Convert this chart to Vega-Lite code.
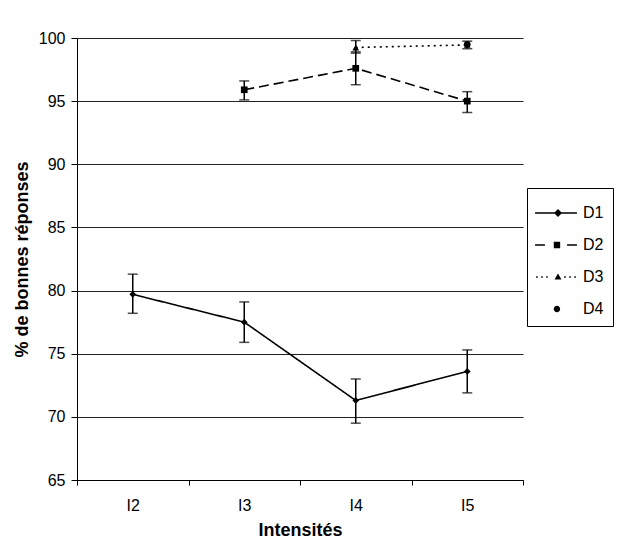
{
  "$schema": "https://vega.github.io/schema/vega-lite/v6.json",
  "width": 446,
  "height": 442,
  "autosize": "none",
  "padding": {"left": 77, "top": 38, "right": 95, "bottom": 67},
  "background": "white",
  "config": {
    "font": "Liberation Sans",
    "view": {"stroke": null},
    "axis": {"labelFont": "Liberation Sans", "titleFont": "Liberation Sans", "labelFontSize": 16, "titleFontSize": 18, "titleFontWeight": "bold", "labelColor": "black", "titleColor": "black", "domainColor": "black", "tickColor": "black"},
    "legend": {"labelFont": "Liberation Sans", "labelFontSize": 16, "labelColor": "black"}
  },
  "data": {"values": [
    {"series": "D1", "x": "I2", "value": 79.7, "lo": 78.2, "hi": 81.3},
    {"series": "D1", "x": "I3", "value": 77.5, "lo": 75.9, "hi": 79.1},
    {"series": "D1", "x": "I4", "value": 71.3, "lo": 69.5, "hi": 73.0},
    {"series": "D1", "x": "I5", "value": 73.6, "lo": 71.9, "hi": 75.3},
    {"series": "D2", "x": "I3", "value": 95.9, "lo": 95.1, "hi": 96.6},
    {"series": "D2", "x": "I4", "value": 97.6, "lo": 96.3, "hi": 98.9},
    {"series": "D2", "x": "I5", "value": 95.0, "lo": 94.1, "hi": 95.75},
    {"series": "D3", "x": "I4", "value": 99.25, "lo": 98.8, "hi": 99.8},
    {"series": "D3", "x": "I5", "value": 99.45, "lo": 99.15, "hi": 99.75},
    {"series": "D4", "x": "I5", "value": 99.5, "lo": null, "hi": null}
  ]},
  "encoding": {
    "x": {"field": "x", "type": "nominal", "scale": {"domain": ["I2", "I3", "I4", "I5"], "paddingInner": 0, "paddingOuter": 0},
      "axis": {"title": "Intensités", "labelAngle": 0, "tickBand": "extent", "tickSize": 5, "labelPadding": 12, "titlePadding": 8, "domainWidth": 1}}
  },
  "resolve": {"scale": {"shape": "independent"}, "legend": {"shape": "independent"}},
  "layer": [
    {
      "mark": {"type": "rule", "color": "black", "strokeWidth": 1.5},
      "encoding": {
        "y": {"field": "lo", "type": "quantitative", "scale": {"domain": [65, 100], "nice": false, "zero": false},
          "axis": {"title": "% de bonnes réponses", "values": [65, 70, 75, 80, 85, 90, 95, 100], "grid": true, "gridColor": "#222", "gridOpacity": 1, "gridWidth": 1, "tickSize": 6, "labelPadding": 6, "titlePadding": 7}},
        "y2": {"field": "hi"}
      }
    },
    {
      "mark": {"type": "tick", "color": "black", "thickness": 1.5, "size": 10, "orient": "horizontal"},
      "encoding": {"y": {"field": "lo", "type": "quantitative"}}
    },
    {
      "mark": {"type": "tick", "color": "black", "thickness": 1.5, "size": 10, "orient": "horizontal"},
      "encoding": {"y": {"field": "hi", "type": "quantitative"}}
    },
    {
      "mark": {"type": "line", "color": "black", "strokeWidth": 1.6},
      "encoding": {
        "y": {"field": "value", "type": "quantitative"},
        "strokeDash": {"field": "series", "type": "nominal", "scale": {"domain": ["D1", "D2", "D3", "D4"], "range": [[1, 0], [10, 5], [2, 4], [1, 0]]}, "legend": null}
      }
    },
    {
      "mark": {"type": "point", "filled": true, "color": "black", "opacity": 1, "size": 45},
      "encoding": {
        "y": {"field": "value", "type": "quantitative"},
        "shape": {"field": "series", "type": "nominal", "scale": {"domain": ["D1", "D2", "D3", "D4"], "range": ["diamond", "square", "triangle-up", "circle"]}, "legend": null}
      }
    },
    {
      "transform": [{"filter": "datum.series === 'none'"}],
      "mark": {"type": "point", "filled": true, "color": "black", "opacity": 1},
      "encoding": {
        "y": {"field": "value", "type": "quantitative"},
        "shape": {"field": "series", "type": "nominal", "scale": {"domain": ["D1", "D2", "D3", "D4"], "range": [
            "M-1.06,-0.047L1.56,-0.047L1.56,0.047L-1.06,0.047ZM0.375,-0.25L0.625,0L0.375,0.25L0.125,0Z",
            "M-1.06,-0.047L-0.44,-0.047L-0.44,0.047L-1.06,0.047ZM0.94,-0.047L1.56,-0.047L1.56,0.047L0.94,0.047ZM0.11,-0.2L0.51,-0.2L0.51,0.2L0.11,0.2Z",
            "M-0.99,-0.05L-0.89,-0.05L-0.89,0.05L-0.99,0.05ZM-0.675,-0.05L-0.575,-0.05L-0.575,0.05L-0.675,0.05ZM-0.36,-0.05L-0.26,-0.05L-0.26,0.05L-0.36,0.05ZM0.76,-0.05L0.86,-0.05L0.86,0.05L0.76,0.05ZM1.075,-0.05L1.175,-0.05L1.175,0.05L1.075,0.05ZM1.39,-0.05L1.49,-0.05L1.49,0.05L1.39,0.05ZM0.375,-0.22L0.59,0.16L0.16,0.16Z",
            "M0.51,0A0.2,0.2,0,1,1,0.11,0A0.2,0.2,0,1,1,0.51,0Z"]},
          "legend": {"title": null, "orient": "none", "legendX": 450, "legendY": 150, "strokeColor": "black", "padding": 9, "rowPadding": 8, "labelOffset": 15, "symbolFillColor": "black", "symbolStrokeColor": "transparent", "symbolStrokeWidth": 0, "symbolSize": 1024, "labelFontSize": 16}}
      }
    }
  ]
}
